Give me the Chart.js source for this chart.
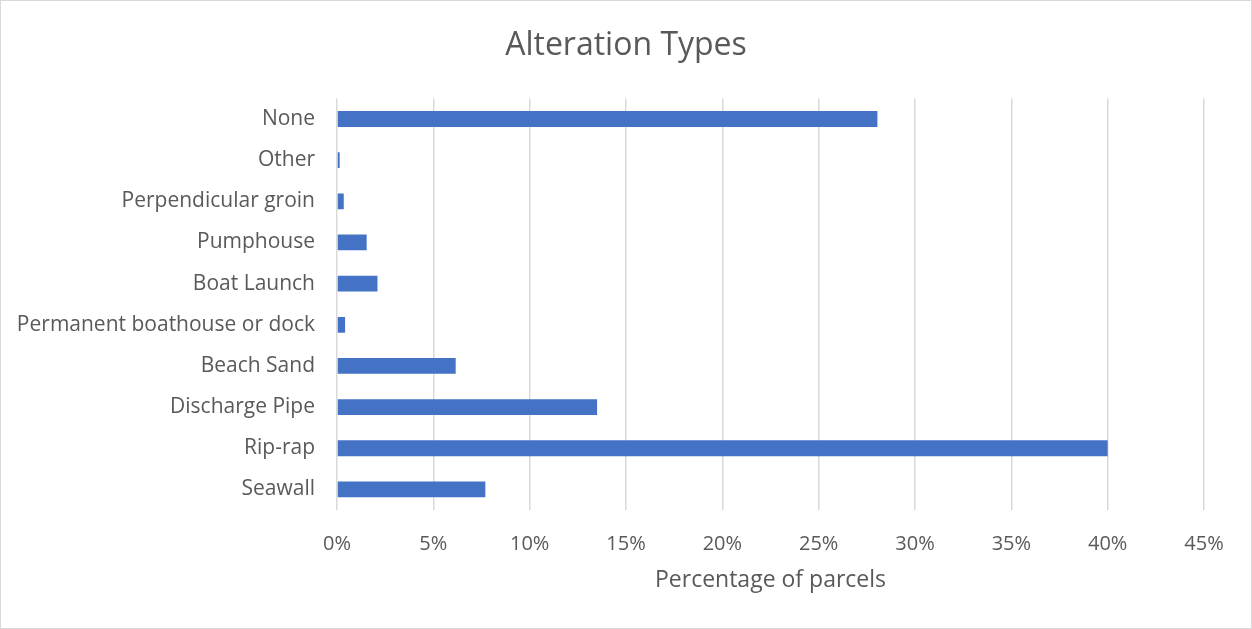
<!DOCTYPE html>
<html>
<head>
<meta charset="utf-8">
<script src="https://cdn.jsdelivr.net/npm/chart.js@4.4.1/dist/chart.umd.min.js"></script>
<style>
  body { margin: 0; background: #fff; }
  #wrap { width: 1252px; height: 629px; box-sizing: border-box; border: 1px solid #d9d9d9; position: relative; }
</style>
</head>
<body>
<div id="wrap"><canvas id="alterChart"></canvas></div>
<script>
const categories = ['None', 'Other', 'Perpendicular groin', 'Pumphouse', 'Boat Launch',
    'Permanent boathouse or dock', 'Beach Sand', 'Discharge Pipe', 'Rip-rap', 'Seawall'];
const parcelPercent = [28.05, 0.14, 0.35, 1.54, 2.1, 0.42, 6.16, 13.5, 40.0, 7.7];

const textColor = '#595959';
const fontFamily = '"Open Sans", "Noto Sans", sans-serif';

const ctx = document.getElementById('alterChart').getContext('2d');
new Chart(ctx, {
    type: 'bar',
    data: {
        labels: categories,
        datasets: [{
            label: 'Percentage of parcels',
            data: parcelPercent,
            backgroundColor: '#4472C4',
            borderWidth: 0,
            categoryPercentage: 0.8,
            barPercentage: 0.48
        }]
    },
    options: {
        indexAxis: 'y',
        responsive: true,
        maintainAspectRatio: false,
        animation: false,
        layout: { padding: 0 },
        plugins: {
            legend: { display: false },
            tooltip: { enabled: false },
            title: {
                display: true,
                text: 'Alteration Types',
                color: textColor,
                font: { family: fontFamily, size: 32, weight: 'normal' },
                padding: { top: 26, bottom: 33 }
            }
        },
        scales: {
            x: {
                min: 0,
                max: 45,
                ticks: {
                    stepSize: 5,
                    color: textColor,
                    padding: 22,
                    font: { family: fontFamily, size: 20 },
                    callback: v => v + '%'
                },
                grid: { color: '#d9d9d9', lineWidth: 1.5, drawTicks: false },
                border: { display: false },
                title: {
                    display: true,
                    text: 'Percentage of parcels',
                    color: textColor,
                    font: { family: fontFamily, size: 23 },
                    padding: { top: 4, bottom: 34 }
                },
                afterFit: scale => {
                    scale.height = 118;
                    scale.paddingRight = 47;
                }
            },
            y: {
                ticks: {
                    color: textColor,
                    padding: 22,
                    font: { family: fontFamily, size: 21 }
                },
                grid: { display: false, drawTicks: false },
                border: { display: false },
                afterFit: scale => { scale.width = 336; }
            }
        }
    }
});
</script>
</body>
</html>
